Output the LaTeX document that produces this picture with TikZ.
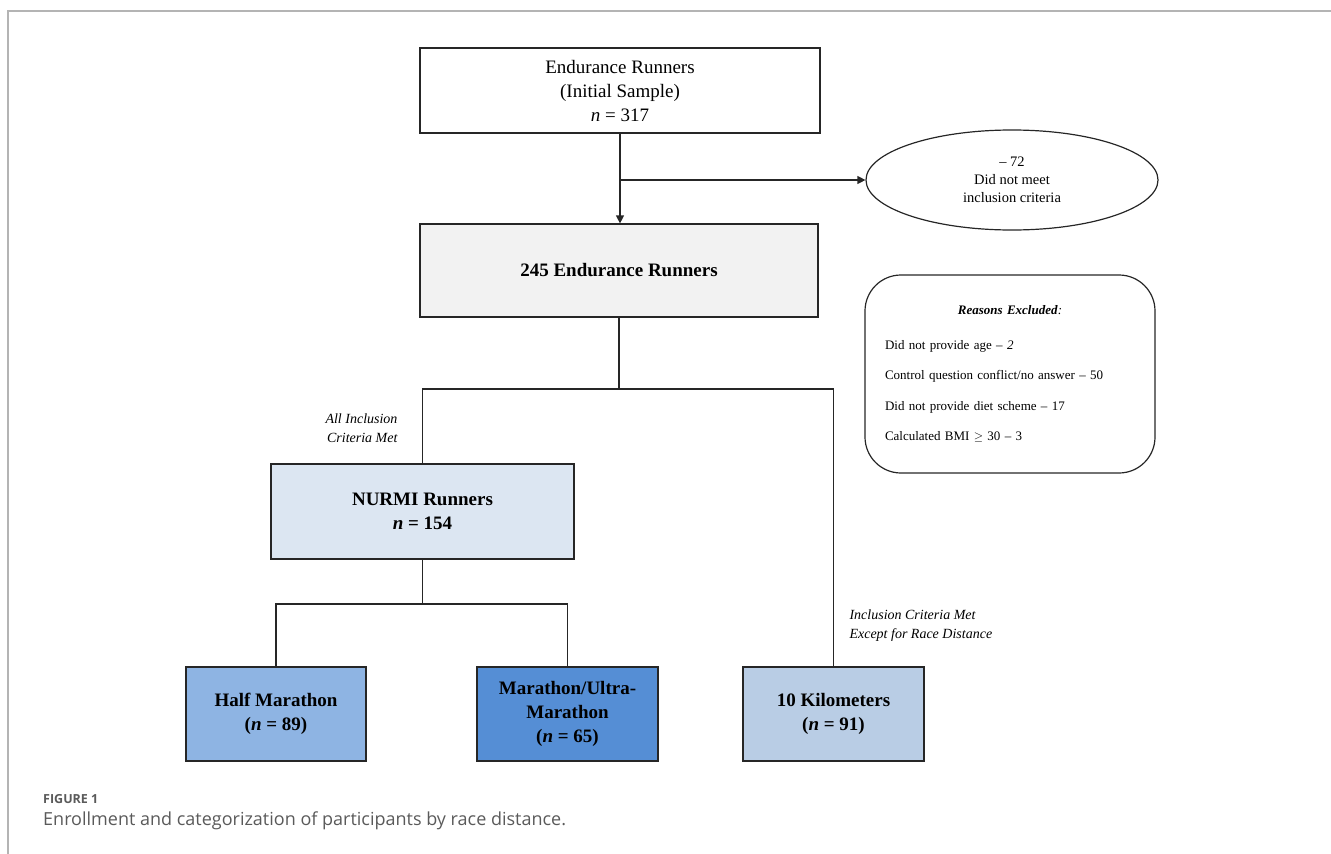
\documentclass[tikz,border=0pt]{standalone}
\usepackage{fontspec}
\setmainfont{Liberation Serif}
\newfontfamily\capfont{Open Sans}
\usetikzlibrary{arrows.meta,shapes.geometric,calc}

\definecolor{boxgray}{HTML}{F2F2F2}
\definecolor{nurmiblue}{HTML}{DCE6F2}
\definecolor{halfblue}{HTML}{8EB4E3}
\definecolor{marablue}{HTML}{558ED5}
\definecolor{tenkblue}{HTML}{B9CDE5}
\definecolor{framegray}{HTML}{B4B4B4}
\definecolor{capgray}{HTML}{5A5A5A}

\tikzset{
  stage/.style={draw=black!85,line width=1.2pt,inner sep=0pt,
    align=center,font=\fontsize{19}{24}\selectfont},
  drop/.style={draw=black!85,line width=1.2pt,ellipse,inner sep=0pt,
    align=center,font=\fontsize{14.5}{18}\selectfont},
  branch/.style={font=\itshape\fontsize{14}{19}\selectfont},
  link/.style={black!85,line width=1.2pt},
  arr/.style={link,-{Triangle[length=8pt,width=8pt]}}
}

\begin{document}
\begin{tikzpicture}[x=1pt,y=-1pt]
  \useasboundingbox (0,0) rectangle (1331,854);
  % frame of the figure
  \draw[framegray,line width=1.6pt] (8,854) -- (8,11) -- (1331,11);

  % boxes
  \node[stage,minimum width=400pt,minimum height=85pt,fill=white]
    at (620,90.5) (init) {Endurance Runners\\(Initial Sample)\\\textit{n} = 317};
  \node[stage,minimum width=398pt,minimum height=93pt,fill=boxgray]
    at (619,270.5) (total) {\textbf{245 Endurance Runners}};
  \node[drop,minimum width=292pt,minimum height=100pt]
    at (1012,180) (excl) {-- 72\\Did not meet\\inclusion criteria};
  \node[draw=black!85,line width=1.2pt,rounded corners=36pt,
    minimum width=290pt,minimum height=198pt,inner sep=0pt,
    text width=250pt,align=left,font=\fontsize{13}{15.6}\selectfont]
    at (1010,374) (reasons) {%
    \makebox[250pt]{\textbf{\textit{Reasons Excluded}}\textit{:}}\\[19pt]
    Did not provide age -- \textit{2}\\[15pt]
    Control question conflict/no answer -- 50\\[15pt]
    Did not provide diet scheme -- 17\\[15pt]
    Calculated BMI $\geq$ 30 -- 3};
  \node[stage,minimum width=303pt,minimum height=95pt,fill=nurmiblue]
    at (422.5,511.5) (nurmi) {\textbf{NURMI Runners}\\\textbf{\textit{n} = 154}};
  \node[stage,minimum width=180pt,minimum height=94pt,fill=halfblue]
    at (276,714) (half) {\textbf{Half Marathon}\\\textbf{(\textit{n} = 89)}};
  \node[stage,minimum width=181pt,minimum height=94pt,fill=marablue]
    at (567.5,714) (mara) {\textbf{Marathon/Ultra-}\\\textbf{Marathon}\\\textbf{(\textit{n} = 65)}};
  \node[stage,minimum width=181pt,minimum height=94pt,fill=tenkblue]
    at (833.5,714) (tenk) {\textbf{10 Kilometers}\\\textbf{(\textit{n} = 91)}};

  % connectors
  \draw[arr] (init.south) -- (init.south |- total.north);
  \draw[arr] (init.south |- excl.west) -- (excl.west);
  \coordinate (fork1) at (619,389);
  \draw[link] (total.south) -- (fork1);
  \draw[link] (nurmi.north) |- (fork1) -| (tenk.north);
  \coordinate (fork2) at (420,604);
  \draw[link] (nurmi.south) -- (nurmi.south |- fork2);
  \draw[link] (half.north) |- (fork2) -| (mara.north);

  % branch labels
  \node[branch,align=right,anchor=east] at (401,428) (allmet)
    {All Inclusion\\Criteria Met};
  \node[branch,align=left,anchor=west] at (846,626) (distmet)
    {Inclusion Criteria Met\\Except for Race Distance};

  % caption
  \node[anchor=base west,inner sep=0pt,text=capgray,
    font=\capfont\bfseries\fontsize{12.5}{14}\selectfont] at (43,803) (fig) {FIGURE 1};
  \node[anchor=base west,inner sep=0pt,text=capgray,
    font=\capfont\fontsize{18}{21}\selectfont] at (43,825) (cap)
    {Enrollment and categorization of participants by race distance.};
\end{tikzpicture}
\end{document}
